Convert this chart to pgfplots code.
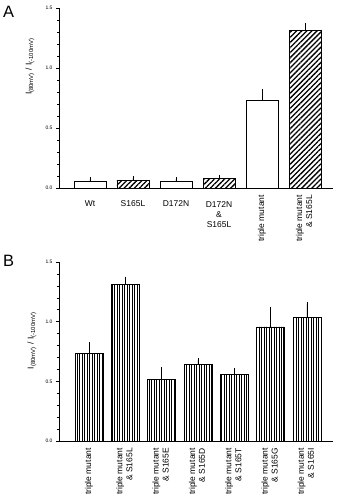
\documentclass[border=0pt]{standalone}
\usepackage{pgfplots}
\pgfplotsset{compat=1.18}
\usepackage{fontspec}
\setmainfont{Liberation Sans}
\usetikzlibrary{patterns.meta}
\newcommand{\dn}[1]{\raisebox{0pt}[\dimexpr\height+5bp\relax]{#1}}
\begin{document}
\begin{tikzpicture}
\useasboundingbox (0,0) rectangle (337bp,500bp);
\pgfplotsset{
  panel/.style={
    scale only axis,
    anchor=south west,
    width=274bp,
    ymin=0, ymax=1.5,
    axis x line*=bottom,
    axis y line*=left,
    axis line style={black, line width=0.6pt},
    ytick={0,0.5,1,1.5},
    minor y tick num=4,
    tick align=outside,
    major tick length=3bp,
    minor tick length=2bp,
    every tick/.style={black, line width=0.5pt},
    xtick=data,
    xtick style={draw=none},
    yticklabel style={font=\fontsize{5}{6}\selectfont, /pgf/number format/.cd, fixed, fixed zerofill, precision=1, assume math mode=true},
    xticklabel style={font=\fontsize{8.5}{10}\selectfont, anchor=north, inner sep=0pt, yshift=-4bp},
    ylabel={I\textsubscript{(80mV)} / I\textsubscript{(-100mV)}},
    clip=false,
  },
  errb/.style={error bars/.cd, y dir=plus, y explicit, error bar style={black, line width=0.6pt}, error mark options={black, line width=0.6pt, mark size=2bp}},
}
% ---------- Panel A ----------
\begin{axis}[panel,
  at={(59bp,312bp)},
  height=180bp,
  xmin=-0.72, xmax=5.65,
  xtick={0,1,2,3,4,5},
  xticklabels={\dn{Wt}, \dn{S165L}, \dn{D172N}, {\dn{\begin{tabular}{@{}c@{}}D172N\\\&\\S165L\end{tabular}}}, {\rotatebox{90}{triple mutant}}, {\rotatebox{90}{\begin{tabular}{@{}r@{}}triple mutant\\\& S165L\end{tabular}}}},
  ylabel style={at={(axis description cs:-0.106,0.675)}, anchor=center, font=\fontsize{8.5}{10}\selectfont},
]
\addplot[ybar, bar width=32bp, bar shift=0pt, draw=black, line width=0.7pt, fill=white, errb]
  table[x=x, y=y, y error=e] {
x y e
0 0.056 0.016
2 0.056 0.016
4 0.728 0.078
};
\addplot[ybar, bar width=32bp, bar shift=0pt, draw=black, line width=0.7pt,
  pattern={Lines[angle=45,distance=3.6pt,line width=1.3pt]}, pattern color=black, errb]
  table[x=x, y=y, y error=e] {
x y e
1 0.066 0.017
3 0.083 0.009
5 1.310 0.050
};
\end{axis}
% ---------- Panel B ----------
\begin{axis}[panel,
  at={(59bp,59bp)},
  height=179bp,
  xmin=-0.826, xmax=6.716,
  xtick={0,1,2,3,4,5,6},
  xticklabels={
    {\rotatebox{90}{triple mutant}},
    {\rotatebox{90}{\begin{tabular}{@{}r@{}}triple mutant\\\& S165L\end{tabular}}},
    {\rotatebox{90}{\begin{tabular}{@{}r@{}}triple mutant\\\& S165E\end{tabular}}},
    {\rotatebox{90}{\begin{tabular}{@{}r@{}}triple mutant\\\& S165D\end{tabular}}},
    {\rotatebox{90}{\begin{tabular}{@{}r@{}}triple mutant\\\& S165T\end{tabular}}},
    {\rotatebox{90}{\begin{tabular}{@{}r@{}}triple mutant\\\& S165G\end{tabular}}},
    {\rotatebox{90}{\begin{tabular}{@{}r@{}}triple mutant\\\& S165I\end{tabular}}}},
  ylabel style={at={(axis description cs:-0.099,0.56)}, anchor=center, font=\fontsize{8.5}{10}\selectfont},
]
\addplot[ybar, bar width=28bp, bar shift=0pt, draw=black, line width=0.7pt,
  pattern={Lines[angle=90,distance=2.5pt,line width=0.9pt]}, pattern color=black, errb]
  table[x=x, y=y, y error=e] {
x y e
0 0.733 0.078
1 1.314 0.047
2 0.519 0.084
3 0.642 0.033
4 0.556 0.038
5 0.956 0.147
6 1.033 0.111
};
\end{axis}
\node[font=\fontsize{16.5}{18}\selectfont, inner sep=0pt] at (8.5bp,488bp) {A};
\node[font=\fontsize{16.5}{18}\selectfont, inner sep=0pt] at (8.5bp,239bp) {B};
\end{tikzpicture}
\end{document}
